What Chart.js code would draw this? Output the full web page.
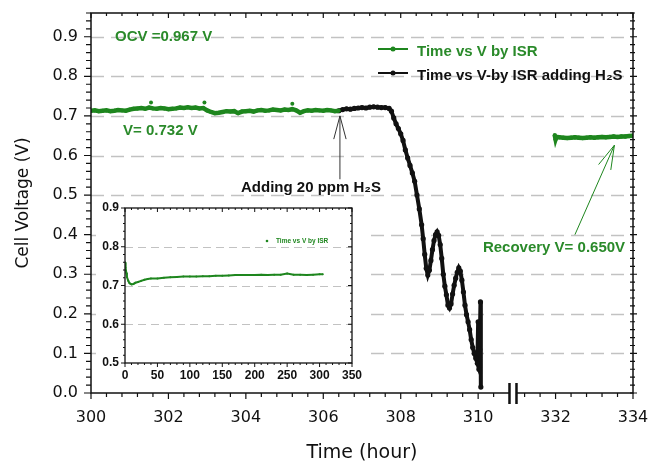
<!DOCTYPE html>
<html>
<head>
<meta charset="utf-8">
<script src="https://cdn.jsdelivr.net/npm/chart.js@4.4.1/dist/chart.umd.min.js"></script>
<style>
html, body { margin: 0; padding: 0; background: #fff; }
#wrap { position: relative; width: 654px; height: 463px; }
#main { position: absolute; left: 0; top: 0; }
#inset { position: absolute; left: 96px; top: 198px; background: #fff; }
</style>
</head>
<body>
<div id="wrap">
  <canvas id="main" width="654" height="463"></canvas>
  <canvas id="inset" width="268" height="190"></canvas>
</div>
<script>
// ---- data ----
// Time vs V by ISR (before H2S)
const isrTime = [300.0,300.1,300.2,300.3,300.4,300.5,300.6,300.7,300.8,300.9,
  301.0,301.1,301.2,301.3,301.4,301.5,301.6,301.7,301.8,301.9,
  302.0,302.1,302.2,302.3,302.4,302.5,302.6,302.7,302.8,302.9,
  303.0,303.1,303.2,303.3,303.4,303.5,303.6,303.7,303.8,303.9,
  304.0,304.1,304.2,304.3,304.4,304.5,304.6,304.7,304.8,304.9,
  305.0,305.1,305.2,305.3,305.4,305.5,305.6,305.7,305.8,305.9,
  306.0,306.1,306.2,306.3,306.4];
const isrVolt = [0.713,0.714,0.712,0.713,0.714,0.712,0.713,0.715,0.714,0.713,
  0.716,0.718,0.719,0.720,0.718,0.721,0.719,0.718,0.720,0.719,
  0.717,0.718,0.719,0.721,0.720,0.722,0.720,0.721,0.719,0.720,
  0.714,0.710,0.707,0.708,0.710,0.712,0.711,0.712,0.707,0.711,
  0.712,0.713,0.711,0.714,0.715,0.713,0.714,0.716,0.715,0.714,
  0.716,0.715,0.717,0.714,0.708,0.712,0.714,0.713,0.715,0.714,
  0.713,0.715,0.714,0.712,0.713];
// stray single readings
const spikeTime = [301.55, 302.93, 305.2];
const spikeVolt = [0.734, 0.734, 0.731];

// Time vs V by ISR adding H2S
const h2sTime = [306.4,306.5,306.6,306.7,306.8,306.9,307.0,307.1,307.2,307.3,307.4,307.5,307.6,307.7,
  307.76,307.82,307.88,307.94,308.0,308.06,308.12,308.18,308.24,308.30,308.36,308.42,308.48,308.54,
  308.58,308.62,308.66,308.70,308.74,308.78,308.82,308.86,308.90,308.94,308.98,309.02,309.06,309.10,
  309.14,309.18,309.22,309.26,309.30,309.34,309.38,309.42,309.46,309.50,309.54,309.58,309.62,309.66,
  309.70,309.74,309.78,309.82,309.86,309.90,309.94,309.98,310.00,310.02,310.04,310.06,310.07];
const h2sVolt = [0.713,0.716,0.718,0.717,0.719,0.720,0.721,0.720,0.722,0.723,0.722,0.721,0.721,0.719,
  0.712,0.695,0.680,0.668,0.655,0.638,0.614,0.594,0.575,0.556,0.535,0.500,0.465,0.425,
  0.390,0.350,0.315,0.298,0.310,0.335,0.362,0.385,0.400,0.407,0.398,0.375,0.340,0.300,
  0.270,0.248,0.222,0.215,0.225,0.250,0.272,0.290,0.305,0.316,0.308,0.285,0.255,0.222,
  0.198,0.180,0.160,0.135,0.115,0.100,0.088,0.075,0.180,0.060,0.110,0.230,0.015];

// recovery (after the axis break)
const recTime = [331.98,332.0,332.02,332.1,332.2,332.3,332.4,332.5,332.6,332.7,332.8,332.9,
  333.0,333.1,333.2,333.3,333.4,333.5,333.6,333.7,333.8,333.9,334.0];
const recVolt = [0.651,0.641,0.647,0.646,0.645,0.644,0.645,0.646,0.645,0.644,0.645,0.646,
  0.645,0.646,0.647,0.646,0.647,0.648,0.647,0.648,0.648,0.649,0.650];

// inset: whole run from 0 h
const insetTime = [0,1,2,3,5,7,10,13,16,20,25,30,35,40,50,60,70,80,90,100,110,120,130,140,150,
  160,170,180,190,200,210,220,230,240,250,260,270,280,290,300,305];
const insetVolt = [0.760,0.745,0.733,0.722,0.712,0.706,0.703,0.704,0.707,0.709,0.712,0.715,0.717,0.718,0.718,
  0.720,0.721,0.722,0.723,0.723,0.723,0.724,0.724,0.725,0.725,0.726,0.727,0.727,0.727,0.727,
  0.728,0.727,0.728,0.728,0.731,0.728,0.728,0.727,0.728,0.729,0.729];

// axis ticks (x axis is broken: 332/334 sit right after 310)
const xTicks = [300,302,304,306,308,310,312,314];
const xTickLabels = ['300','302','304','306','308','310','332','334'];
const yTicks = [0,0.1,0.2,0.3,0.4,0.5,0.6,0.7,0.8,0.9];
const insetXTicks = [0,50,100,150,200,250,300,350];
const insetYTicks = [0.5,0.6,0.7,0.8,0.9];

const GREEN = '#1e861e';
const TXTGREEN = '#2a8a2a';
const breakAt = 310.9;
const toAxis = t => t > 320 ? t - 20 : t;
const pts = (ts, vs) => ts.map((t, i) => ({x: toAxis(t), y: vs[i]}));

Chart.defaults.font.family = 'DejaVu Sans';
Chart.defaults.color = '#111';

function arrow(ctx, x1, y1, x2, y2, len, ang) {
  ctx.beginPath();
  ctx.moveTo(x1, y1); ctx.lineTo(x2, y2);
  const a = Math.atan2(y1 - y2, x1 - x2);
  ctx.moveTo(x2 + len * Math.cos(a + ang), y2 + len * Math.sin(a + ang));
  ctx.lineTo(x2, y2);
  ctx.lineTo(x2 + len * Math.cos(a - ang), y2 + len * Math.sin(a - ang));
  ctx.stroke();
}

// gridlines, frame, tick marks, axis break, notes and legend
const mainDeco = {
  id: 'mainDeco',
  beforeDatasetsDraw(chart) {
    const {ctx, chartArea: a, scales: {y}} = chart;
    ctx.save();
    ctx.strokeStyle = '#c2c2c2'; ctx.lineWidth = 1.5; ctx.setLineDash([13, 7]);
    yTicks.forEach(v => {
      if (v === 0) return;
      const py = Math.round(y.getPixelForValue(v)) + 0.5;
      ctx.beginPath(); ctx.moveTo(a.left, py); ctx.lineTo(a.right, py); ctx.stroke();
    });
    ctx.restore();
  },
  afterDraw(chart) {
    const {ctx, chartArea: a, scales: {x, y}} = chart;
    ctx.save();
    ctx.strokeStyle = '#111'; ctx.lineWidth = 1.5;
    ctx.strokeRect(a.left, a.top, a.right - a.left, a.bottom - a.top);
    ctx.lineWidth = 1.2;
    ctx.beginPath();
    for (let i = 0; i <= 35; i++) {
      const v = 300 + i * 0.4;
      if (Math.abs(v - breakAt) < 0.2) continue;
      const px = x.getPixelForValue(v);
      const len = i % 5 === 0 ? 6 : 4;
      ctx.moveTo(px, a.bottom); ctx.lineTo(px, a.bottom + len);
      ctx.moveTo(px, a.top); ctx.lineTo(px, a.top + len - 1);
    }
    for (let i = 0; i <= 48; i++) {
      const py = y.getPixelForValue(i * 0.02);
      const len = i % 5 === 0 ? 7 : 5;
      ctx.moveTo(a.left - len, py); ctx.lineTo(a.left, py);
      ctx.moveTo(a.right - 3, py); ctx.lineTo(a.right + len - 3, py);
    }
    ctx.stroke();

    // axis break
    const bx = x.getPixelForValue(breakAt);
    ctx.fillStyle = '#fff';
    ctx.fillRect(bx - 3, a.bottom - 2, 6, 4);
    ctx.lineWidth = 2.5;
    ctx.beginPath();
    ctx.moveTo(bx - 3.5, a.bottom - 10); ctx.lineTo(bx - 3.5, a.bottom + 11);
    ctx.moveTo(bx + 3.5, a.bottom - 10); ctx.lineTo(bx + 3.5, a.bottom + 11);
    ctx.stroke();

    // notes
    ctx.font = 'bold 15px "Liberation Sans"';
    ctx.textBaseline = 'middle';
    ctx.fillStyle = TXTGREEN;
    ctx.textAlign = 'left';
    ctx.fillText('OCV =0.967 V', 115, 37);
    ctx.fillText('V= 0.732 V', 123, 131);
    ctx.textAlign = 'center';
    ctx.fillText('Recovery V= 0.650V', 554, 248);
    ctx.fillStyle = '#111';
    ctx.fillText('Adding 20 ppm H\u2082S', 311, 188);

    ctx.lineWidth = 1;
    ctx.strokeStyle = '#333';
    arrow(ctx, x.getPixelForValue(306.43), y.getPixelForValue(0.54),
      x.getPixelForValue(306.43), y.getPixelForValue(0.70), 24, 0.26);
    ctx.strokeStyle = GREEN;
    arrow(ctx, x.getPixelForValue(312.5), y.getPixelForValue(0.40),
      x.getPixelForValue(313.52), y.getPixelForValue(0.626), 25, 0.27);

    // legend
    const items = [['Time vs V by ISR', GREEN, TXTGREEN, 49], ['Time vs V-by ISR adding H\u2082S', '#111', '#111', 73]];
    ctx.textAlign = 'left';
    items.forEach(([label, c, tc, ly]) => {
      ctx.strokeStyle = c; ctx.lineWidth = 2;
      ctx.beginPath(); ctx.moveTo(378, ly); ctx.lineTo(408, ly); ctx.stroke();
      ctx.fillStyle = c;
      ctx.beginPath(); ctx.arc(393, ly, 2.5, 0, Math.PI * 2); ctx.fill();
      ctx.fillStyle = tc;
      ctx.fillText(label, 417, ly + 3);
    });
    ctx.restore();
  }
};

new Chart(document.getElementById('main'), {
  type: 'line',
  data: {
    datasets: [
      { data: pts(isrTime, isrVolt), borderColor: GREEN, backgroundColor: GREEN, borderWidth: 4.5,
        pointRadius: 2, pointBorderWidth: 0, tension: 0 },
      { data: pts(spikeTime, spikeVolt), showLine: false, backgroundColor: GREEN, pointRadius: 2, pointBorderWidth: 0 },
      { data: pts(h2sTime, h2sVolt), borderColor: '#111', backgroundColor: '#111', borderWidth: 4,
        pointRadius: 2.6, pointBorderWidth: 0, tension: 0 },
      { data: pts(recTime, recVolt), borderColor: GREEN, backgroundColor: GREEN, borderWidth: 4.5,
        pointRadius: 2.2, pointBorderWidth: 0, tension: 0 }
    ]
  },
  options: {
    responsive: false,
    animation: false,
    devicePixelRatio: 1,
    layout: { padding: { left: 0, top: 13, right: 21, bottom: 0 } },
    plugins: { legend: { display: false }, tooltip: { enabled: false } },
    scales: {
      x: {
        type: 'linear', min: 300, max: 314,
        afterFit(s) { s.height = 70; s.paddingLeft = 0; s.paddingRight = 0; },
        afterBuildTicks(s) { s.ticks = xTicks.map(v => ({value: v})); },
        grid: { display: false, drawTicks: false },
        border: { display: false },
        ticks: { padding: 15, autoSkip: false, maxRotation: 0, font: { size: 16 },
          callback: (v, i) => xTickLabels[i] },
        title: { display: true, text: 'Time (hour)', font: { size: 19, lineHeight: 1 }, padding: { top: 0, bottom: 0 } }
      },
      y: {
        min: 0, max: 0.96,
        afterFit(s) { s.width = 91; s.paddingTop = 0; s.paddingBottom = 0; },
        afterBuildTicks(s) { s.ticks = yTicks.map(v => ({value: v})); },
        grid: { display: false, drawTicks: false },
        border: { display: false },
        ticks: { padding: 13, font: { size: 16 }, callback: v => v.toFixed(1) },
        title: { display: true, text: 'Cell Voltage (V)', font: { size: 17 }, padding: { top: 13, bottom: 0 } }
      }
    }
  },
  plugins: [mainDeco]
});

// inset
const insetDeco = {
  id: 'insetDeco',
  beforeDatasetsDraw(chart) {
    const {ctx, chartArea: a, scales: {y}} = chart;
    ctx.save();
    ctx.strokeStyle = '#c2c2c2'; ctx.lineWidth = 1.2; ctx.setLineDash([8, 5]);
    [0.6, 0.7, 0.8].forEach(v => {
      const py = Math.round(y.getPixelForValue(v)) + 0.5;
      ctx.beginPath(); ctx.moveTo(a.left, py); ctx.lineTo(a.right, py); ctx.stroke();
    });
    ctx.restore();
  },
  afterDraw(chart) {
    const {ctx, chartArea: a, scales: {x, y}} = chart;
    ctx.save();
    ctx.strokeStyle = '#111'; ctx.lineWidth = 1.3;
    ctx.strokeRect(a.left, a.top, a.right - a.left, a.bottom - a.top);
    ctx.lineWidth = 1;
    ctx.beginPath();
    for (let v = 0; v <= 350; v += 10) {
      const px = x.getPixelForValue(v);
      const len = v % 50 === 0 ? 4 : 2;
      ctx.moveTo(px, a.bottom); ctx.lineTo(px, a.bottom + len);
      ctx.moveTo(px, a.top); ctx.lineTo(px, a.top + len);
    }
    for (let i = 0; i <= 20; i++) {
      const py = y.getPixelForValue(0.5 + i * 0.02);
      const len = i % 5 === 0 ? 4 : 2;
      ctx.moveTo(a.left - len, py); ctx.lineTo(a.left, py);
      ctx.moveTo(a.right, py); ctx.lineTo(a.right - len, py);
    }
    ctx.stroke();
    ctx.fillStyle = GREEN;
    ctx.beginPath(); ctx.arc(171, 43, 1.3, 0, Math.PI * 2); ctx.fill();
    ctx.font = 'bold 6.5px "Liberation Sans"';
    ctx.textBaseline = 'middle';
    ctx.fillText('Time vs V by ISR', 180, 43.5);
    ctx.restore();
  }
};

new Chart(document.getElementById('inset'), {
  type: 'line',
  data: {
    datasets: [
      { data: insetTime.map((t, i) => ({x: t, y: insetVolt[i]})), borderColor: GREEN, backgroundColor: GREEN,
        borderWidth: 2, pointRadius: 1, pointBorderWidth: 0, tension: 0 }
    ]
  },
  options: {
    responsive: false,
    animation: false,
    devicePixelRatio: 1,
    layout: { padding: { left: 0, top: 10, right: 12, bottom: 0 } },
    plugins: { legend: { display: false }, tooltip: { enabled: false } },
    scales: {
      x: {
        type: 'linear', min: 0, max: 350,
        afterFit(s) { s.height = 25; s.paddingLeft = 0; s.paddingRight = 0; },
        afterBuildTicks(s) { s.ticks = insetXTicks.map(v => ({value: v})); },
        grid: { display: false, drawTicks: false },
        border: { display: false },
        ticks: { padding: 5, autoSkip: false, maxRotation: 0,
          font: { family: 'Liberation Sans', weight: 'bold', size: 12 } }
      },
      y: {
        min: 0.5, max: 0.9,
        afterFit(s) { s.width = 29; s.paddingTop = 0; s.paddingBottom = 0; },
        afterBuildTicks(s) { s.ticks = insetYTicks.map(v => ({value: v})); },
        grid: { display: false, drawTicks: false },
        border: { display: false },
        ticks: { padding: 6, font: { family: 'Liberation Sans', weight: 'bold', size: 12 },
          callback: v => v.toFixed(1) }
      }
    }
  },
  plugins: [insetDeco]
});
</script>
</body>
</html>
